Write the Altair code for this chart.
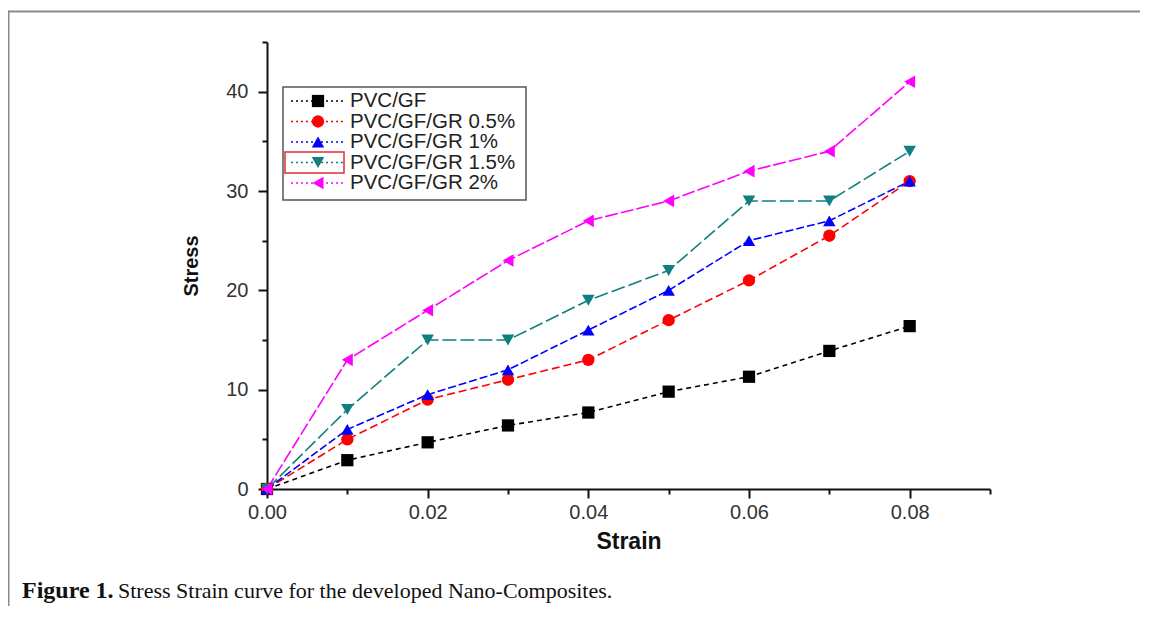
import altair as alt
import pandas as pd

series_names = ["PVC/GF", "PVC/GF/GR 0.5%", "PVC/GF/GR 1%", "PVC/GF/GR 1.5%", "PVC/GF/GR 2%"]
strain = [0.00, 0.01, 0.02, 0.03, 0.04, 0.05, 0.06, 0.07, 0.08]
stress_pvc_gf = [0, 2.9, 4.7, 6.4, 7.7, 9.8, 11.3, 13.9, 16.4]
stress_gr05 = [0, 5.0, 9.0, 11.0, 13.0, 17.0, 21.0, 25.5, 31.0]
stress_gr1 = [0, 6.0, 9.5, 12.0, 16.0, 20.0, 25.0, 27.0, 31.0]
stress_gr15 = [0, 8.0, 15.0, 15.0, 19.0, 22.0, 29.0, 29.0, 34.0]
stress_gr2 = [0, 13.0, 18.0, 23.0, 27.0, 29.0, 32.0, 34.0, 41.0]

y_major = [0, 10, 20, 30, 40]
y_minor = [5, 15, 25, 35, 45]
x_major = [0.00, 0.02, 0.04, 0.06, 0.08]
x_minor = [0.01, 0.03, 0.05, 0.07, 0.09]

colors = ["#000000", "#ff0000", "#0000ff", "#0f7f7f", "#ff00ff"]
shapes = ["square", "circle", "triangle-up", "triangle-down", "triangle-left"]
sizes = [150, 160, 250, 250, 250]
dashes = [[5, 4], [8, 4], [8, 3], [14, 4], [13, 3]]

all_values = [stress_pvc_gf, stress_gr05, stress_gr1, stress_gr15, stress_gr2]
rows = []
for name, vals in zip(series_names, all_values):
    for s, v in zip(strain, vals):
        rows.append({"series": name, "strain": s, "stress": v})
df = pd.DataFrame(rows)
legend_df = pd.DataFrame({"series": series_names, "i": list(range(len(series_names)))})

FONT = "Liberation Sans"
SERIF = "Liberation Serif"

color_enc = alt.Color("series:N", scale=alt.Scale(domain=series_names, range=colors), legend=None)
shape_enc = alt.Shape("series:N", scale=alt.Scale(domain=series_names, range=shapes), legend=None)
size_enc = alt.Size("series:N", scale=alt.Scale(domain=series_names, range=sizes), legend=None)
dash_enc = alt.StrokeDash("series:N", scale=alt.Scale(domain=series_names, range=dashes), legend=None)

xscale = alt.Scale(domain=[0, 0.09], nice=False, zero=False)
yscale = alt.Scale(domain=[0, 45], nice=False)

x_axis = alt.Axis(values=x_major, format=".2f", title="Strain", grid=False,
                  labelFont=FONT, labelFontSize=20, labelColor="#333333", labelPadding=4,
                  titleFont=FONT, titleFontSize=23, titleFontWeight="bold", titleColor="#111111",
                  titlePadding=8, tickSize=9, tickWidth=2, tickColor="#111111",
                  domainWidth=2, domainColor="#111111", labelFlush=False)
y_axis = alt.Axis(values=y_major, title="Stress", grid=False,
                  labelFont=FONT, labelFontSize=20, labelColor="#333333", labelPadding=10,
                  titleFont=FONT, titleFontSize=20, titleFontWeight="bold", titleColor="#111111",
                  titlePadding=24, tickSize=9, tickWidth=2, tickColor="#111111",
                  domainWidth=2, domainColor="#111111", labelFlush=False)

base = alt.Chart(df)
lines = base.mark_line(strokeWidth=1.6).encode(
    x=alt.X("strain:Q", scale=xscale, axis=x_axis),
    y=alt.Y("stress:Q", scale=yscale, axis=y_axis),
    color=color_enc, strokeDash=dash_enc, detail="series:N",
)
points = base.mark_point(filled=True, opacity=1).encode(
    x=alt.X("strain:Q", scale=xscale, axis=None),
    y=alt.Y("stress:Q", scale=yscale, axis=None),
    color=color_enc, shape=shape_enc, size=size_enc,
)
minor = base.mark_point(opacity=0).encode(
    x=alt.X("strain:Q", scale=xscale,
            axis=alt.Axis(values=x_minor, labels=False, title=None, grid=False, domain=False,
                          tickSize=5, tickWidth=2, tickColor="#111111", orient="bottom")),
    y=alt.Y("stress:Q", scale=yscale,
            axis=alt.Axis(values=y_minor, labels=False, title=None, grid=False, domain=False,
                          tickSize=5, tickWidth=2, tickColor="#111111", orient="left")),
)

# Legend drawn as its own layer (pixel positions)
leg = alt.Chart(legend_df).transform_calculate(ly="59 + 20.5 * datum.i")
leg_box = alt.Chart(legend_df).mark_rect(fill="white", stroke="#555555", strokeWidth=1.5).encode(
    x=alt.value(16), x2=alt.value(259), y=alt.value(45), y2=alt.value(158)
).transform_filter("datum.i == 0")
leg_lines = leg.mark_rule(strokeWidth=1.5, strokeDash=[2, 3]).encode(
    x=alt.value(24), x2=alt.value(78), y=alt.Y("ly:Q", scale=None, axis=None), color=color_enc
)
leg_pts = leg.mark_point(filled=True, opacity=1).encode(
    x=alt.value(51), y=alt.Y("ly:Q", scale=None, axis=None), color=color_enc, shape=shape_enc,
    size=size_enc,
)
leg_text = leg.mark_text(align="left", baseline="middle", font=FONT, fontSize=20.5, color="#222222").encode(
    x=alt.value(83), y=alt.Y("ly:Q", scale=None, axis=None), text="series:N"
)
highlight = alt.Chart(legend_df).mark_rect(fill=None, stroke="#e03030", strokeWidth=1.5).encode(
    x=alt.value(18), x2=alt.value(77), y=alt.value(110), y2=alt.value(131)
).transform_filter("datum.i == 3")

frame_top = alt.Chart(legend_df).mark_rule(stroke="#8a8a8a", strokeWidth=2).encode(
    x=alt.value(-258.5), x2=alt.value(900), y=alt.value(-30.5)
).transform_filter("datum.i == 0")
frame_left = alt.Chart(legend_df).mark_rule(stroke="#8a8a8a", strokeWidth=2).encode(
    x=alt.value(-258.5), y=alt.value(-31.5), y2=alt.value(700)
).transform_filter("datum.i == 0")

cap1 = alt.Chart(legend_df).mark_text(align="left", baseline="alphabetic", font=SERIF, fontSize=24,
                                      fontWeight="bold", color="#111111").encode(
    x=alt.value(-245), y=alt.value(556), text=alt.value("Figure 1.")
).transform_filter("datum.i == 0")
cap2 = alt.Chart(legend_df).mark_text(align="left", baseline="alphabetic", font=SERIF, fontSize=22,
                                      color="#111111").encode(
    x=alt.value(-149), y=alt.value(556),
    text=alt.value("Stress Strain curve for the developed Nano-Composites.")
).transform_filter("datum.i == 0")

chart = alt.layer(
    frame_top, frame_left, lines, points, minor, leg_box, leg_lines, leg_pts, leg_text, highlight,
    cap1, cap2
).resolve_axis(x="independent", y="independent").properties(
    width=723, height=447,
    background="white",
    autosize=alt.AutoSizeParams(type="none"),
    padding={"left": 259, "top": 34, "right": 150, "bottom": 117},
).configure_view(strokeWidth=0, stroke="transparent")

chart.save("out.html", embed_options={"renderer": "svg", "actions": False})
